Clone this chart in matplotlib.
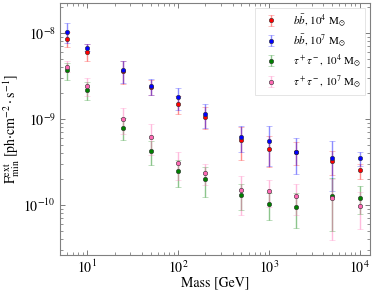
import numpy as np
import matplotlib
matplotlib.use("Agg")
import matplotlib.pyplot as plt

plt.rcParams['font.family'] = 'STIXGeneral'
plt.rcParams['mathtext.fontset'] = 'stix'

# dark matter masses (GeV)
mass = [6, 10, 25, 50, 100, 200, 500, 1000, 2000, 5000, 10000]

# b bbar, 1e4 Msun
bb4 = [8.5e-9, 6.0e-9, 3.6e-9, 2.35e-9, 1.48e-9, 1.06e-9, 5.7e-10, 4.5e-10, 4.1e-10, 3.2e-10, 2.5e-10]
bb4_err = [1.7e-9, 1.35e-9, 1.05e-9, 0.45e-9, 0.35e-9, 0.3e-9, 2.4e-10, 1.75e-10, 1.2e-10, 1.0e-10, 0.5e-10]

# b bbar, 1e7 Msun
bb7 = [1.035e-8, 6.75e-9, 3.68e-9, 2.4e-9, 1.77e-9, 1.14e-9, 6.2e-10, 5.5e-10, 4.1e-10, 3.45e-10, 3.45e-10]
bb7_err = [2.7e-9, 0.65e-9, 1.08e-9, 0.5e-9, 0.5e-9, 0.35e-9, 2.1e-10, 2.7e-10, 1.85e-10, 2.0e-10, 0.66e-10]

# tau tau, 1e4 Msun
tt4 = [3.65e-9, 2.17e-9, 7.9e-10, 4.17e-10, 2.44e-10, 2.0e-10, 1.3e-10, 1.02e-10, 9.5e-11, 1.27e-10, 1.2e-10]
tt4_err = [0.8e-9, 0.5e-9, 2.2e-10, 1.3e-10, 0.83e-10, 0.77e-10, 0.43e-10, 0.35e-10, 0.41e-10, 0.78e-10, 0.43e-10]

# tau tau, 1e7 Msun
tt7 = [4.06e-9, 2.42e-9, 1.0e-9, 6.2e-10, 3.05e-10, 2.34e-10, 1.47e-10, 1.43e-10, 1.25e-10, 1.18e-10, 9.7e-11]
tt7_err = [0.6e-9, 0.6e-9, 0.33e-9, 2.45e-10, 1.1e-10, 0.63e-10, 0.71e-10, 0.5e-10, 0.49e-10, 0.79e-10, 0.45e-10]

fig = plt.figure(figsize=(3.74, 2.91), dpi=100)
ax = fig.add_axes([0.16, 0.124, 0.829, 0.864])

series = [
    (bb4, bb4_err, 'red', r'$b\bar{b}$, $10^4\ \mathrm{M}_{\odot}$'),
    (bb7, bb7_err, 'blue', r'$b\bar{b}$, $10^7\ \mathrm{M}_{\odot}$'),
    (tt4, tt4_err, 'green', r'$\tau^+\tau^-$, $10^4\ \mathrm{M}_{\odot}$'),
    (tt7, tt7_err, 'hotpink', r'$\tau^+\tau^-$, $10^7\ \mathrm{M}_{\odot}$'),
]
for y, yerr, c, lab in series:
    eb = ax.errorbar(mass, y, yerr=yerr, fmt='o', color=c, ms=3.2, mec='0.2', mew=0.4,
                     ecolor=c, elinewidth=1.0, capsize=2, capthick=1.0, label=lab)
    for art in eb[1] + eb[2]:
        art.set_alpha(0.45)

ax.set_xscale('log')
ax.set_yscale('log')
ax.set_xlim(5, 1.3e4)
ax.set_ylim(2.6e-11, 2.2e-8)

ax.set_xlabel('Mass [GeV]', fontsize=10, labelpad=0)
ax.set_ylabel(r'$\mathrm{F}^{\mathrm{ext}}_{\mathrm{min}}$ [ph$\cdot$cm$^{-2}\cdot$s$^{-1}$]', fontsize=10, labelpad=1)

ax.tick_params(which='both', direction='in', top=True, right=True, labelsize=10, color='0.4')
ax.tick_params(which='major', length=3.5, width=0.6, pad=3)
ax.tick_params(which='minor', length=2, width=0.5)
for s in ax.spines.values():
    s.set_color('0.5')
    s.set_linewidth(0.8)

leg = ax.legend(loc='upper right', fontsize=8, frameon=True, fancybox=False,
                edgecolor='0.85', handletextpad=1.0, borderpad=0.4, labelspacing=0.35,
                borderaxespad=0.4)
leg.get_frame().set_linewidth(0.6)

fig.savefig('out.png', dpi=100)
